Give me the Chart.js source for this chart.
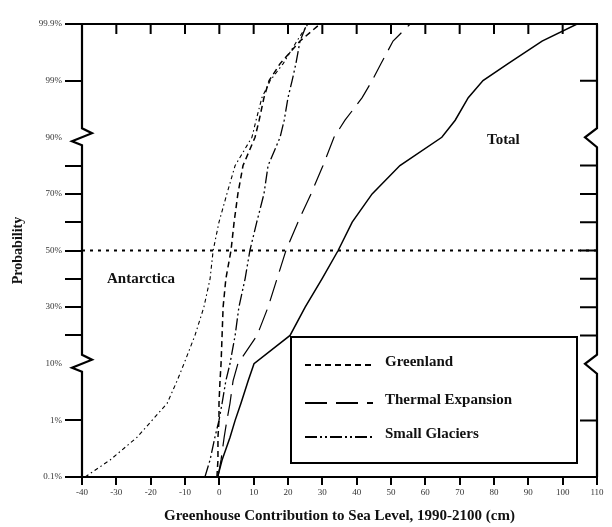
<!DOCTYPE html>
<html>
<head>
<meta charset="utf-8">
<script src="https://cdn.jsdelivr.net/npm/chart.js@4/dist/chart.umd.min.js"></script>
<style>
  body { margin: 0; background: #fff; }
  canvas { display: block; }
</style>
</head>
<body>
<canvas id="chart" width="612" height="527"></canvas>
<script>
// cumulative probability (%) at which each curve was read
const probLevels = [0.1, 0.2, 0.5, 1, 2, 5, 10, 20, 30, 40, 50, 60, 70, 80, 90, 95, 98, 99, 99.5, 99.8, 99.9];

// sea level contribution (cm) at each probability level
const totalCm      = [-0.5, 0.8, 3.1, 4.6, 6.3, 8.4, 10.1, 20.6, 25.0, 29.9, 34.6, 38.7, 44.5, 52.6, 64.8, 68.7, 72.5, 76.8, 84.1, 94.0, 104.2];
const thermalCm    = [-0.4, 0.5, 1.4, 2.2, 3.1, 4.0, 5.4, 11.0, 14.2, 16.8, 19.4, 22.9, 26.7, 30.2, 33.4, 36.6, 41.6, 44.5, 47.1, 50.6, 55.6];
const glaciersCm   = [-4.2, -2.7, -1.3, -0.1, 0.8, 1.9, 3.1, 4.6, 5.7, 7.5, 8.9, 10.9, 13.0, 14.2, 17.7, 18.9, 20.0, 21.2, 22.3, 23.5, 25.5];
const greenlandCm  = [-0.7, -0.4, -0.4, -0.1, -0.1, 0.2, 0.5, 0.8, 1.1, 1.9, 3.4, 4.3, 5.4, 6.9, 10.4, 11.6, 13.0, 14.5, 17.7, 23.5, 29.3];
const antarcticaCm = [-39.1, -31.8, -24.0, -19.6, -15.2, -12.3, -10.3, -7.1, -4.5, -2.7, -1.8, -0.1, 2.2, 4.6, 9.5, 10.7, 12.4, 14.8, 18.6, 22.6, 25.8];

const medianProb = 50;

// x axis ticks (cm)
const xMin = -40, xMax = 110, xStep = 10;

// probability axis: tick labels at axis units 0..16
const probTickUnits  = [0, 2, 4, 6, 8, 10, 12, 14, 16];
const probTickLabels = ['0.1%', '1%', '10%', '30%', '50%', '70%', '90%', '99%', '99.9%'];
const probMarkUnits  = [0, 2, 5, 6, 7, 8, 9, 10, 11, 14, 16];
const breakUnits     = [4, 12];

// broken probability axis: log tails below 10% and above 90%, linear in between
function toAxis(p) {
  if (p <= 10) return 4 + 2 * Math.log10(p / 10);
  if (p >= 90) return 12 - 2 * Math.log10((100 - p) / 10);
  return 4 + (p - 10) / 10;
}

function series(cm) {
  return cm.map((v, i) => ({ x: v, y: toAxis(probLevels[i]) }));
}

const FONT = '"Liberation Serif", "DejaVu Serif", serif';

const styles = {
  total:      { dash: [],                 width: 1.5 },
  thermal:    { dash: [22, 9],            width: 1.2 },
  greenland:  { dash: [6, 4],             width: 1.5 },
  glaciers:   { dash: [12, 3, 2, 3, 2, 3], width: 1.3 },
  antarctica: { dash: [4, 3, 1.5, 3],     width: 1.1 }
};

function line(label, cm, st) {
  return {
    label: label,
    data: series(cm),
    borderColor: '#000',
    borderWidth: st.width,
    borderDash: st.dash,
    pointRadius: 0,
    tension: 0,
    fill: false
  };
}

const framePlugin = {
  id: 'frame',
  afterDatasetsDraw(chart) {
    const { ctx, chartArea: a, scales } = chart;
    const x = scales.x, y = scales.y;
    ctx.save();
    ctx.strokeStyle = '#000';
    ctx.lineWidth = 2.2;
    ctx.lineCap = 'butt';

    // top and bottom
    ctx.beginPath();
    ctx.moveTo(a.left - 1, a.top); ctx.lineTo(a.right + 1, a.top);
    ctx.moveTo(a.left - 1, a.bottom); ctx.lineTo(a.right + 1, a.bottom);
    ctx.stroke();

    // left / right axis with breaks
    const sides = [{ px: a.left, dir: 1 }, { px: a.right, dir: -1 }];
    sides.forEach(s => {
      ctx.beginPath();
      ctx.moveTo(s.px, a.top);
      breakUnits.slice().reverse().forEach(u => {
        const cy = y.getPixelForValue(u);
        ctx.lineTo(s.px, cy - 9);
        if (s.dir === 1) {
          ctx.lineTo(s.px + 10, cy - 4);
          ctx.lineTo(s.px - 10, cy + 4);
          ctx.lineTo(s.px, cy + 8);
        } else {
          ctx.lineTo(s.px - 12, cy);
          ctx.lineTo(s.px, cy + 10);
        }
      });
      ctx.lineTo(s.px, a.bottom);
      ctx.stroke();
    });

    // inward ticks on top and right
    ctx.lineWidth = 2;
    ctx.beginPath();
    for (let v = xMin; v <= xMax; v += xStep) {
      const px = x.getPixelForValue(v);
      ctx.moveTo(px, a.top); ctx.lineTo(px, a.top + 10);
    }
    probMarkUnits.forEach(u => {
      const py = y.getPixelForValue(u);
      ctx.moveTo(a.right, py); ctx.lineTo(a.right - 17, py);
    });
    ctx.stroke();

    // legend box
    const bx = 291, by = 337, bw = 286, bh = 126;
    ctx.fillStyle = '#fff';
    ctx.fillRect(bx, by, bw, bh);
    ctx.lineWidth = 2;
    ctx.strokeRect(bx, by, bw, bh);

    const items = [
      { text: 'Greenland', st: styles.greenland, y: 365 },
      { text: 'Thermal Expansion', st: styles.thermal, y: 403 },
      { text: 'Small Glaciers', st: styles.glaciers, y: 437 }
    ];
    ctx.font = 'bold 15px ' + FONT;
    ctx.textBaseline = 'middle';
    ctx.fillStyle = '#111';
    items.forEach(it => {
      ctx.beginPath();
      ctx.setLineDash(it.st.dash);
      ctx.lineWidth = it.st.width + 0.6;
      ctx.moveTo(305, it.y); ctx.lineTo(373, it.y);
      ctx.stroke();
      ctx.setLineDash([]);
      ctx.fillText(it.text, 385, it.y - 3);
    });

    // direct labels
    ctx.fillText('Antarctica', 107, 279);
    ctx.fillText('Total', 487, 140);
    ctx.restore();
  }
};

new Chart(document.getElementById('chart'), {
  type: 'line',
  data: {
    datasets: [
      line('Total', totalCm, styles.total),
      line('Thermal Expansion', thermalCm, styles.thermal),
      line('Small Glaciers', glaciersCm, styles.glaciers),
      line('Greenland', greenlandCm, styles.greenland),
      line('Antarctica', antarcticaCm, styles.antarctica),
      {
        label: 'Median',
        data: [{ x: xMin, y: toAxis(medianProb) }, { x: xMax, y: toAxis(medianProb) }],
        borderColor: '#000',
        borderWidth: 2.2,
        borderDash: [3, 5],
        pointRadius: 0,
        fill: false
      }
    ]
  },
  options: {
    responsive: false,
    animation: false,
    layout: { padding: { top: 24, right: 15, left: 0, bottom: 0 } },
    plugins: {
      legend: { display: false },
      tooltip: { enabled: false }
    },
    scales: {
      x: {
        type: 'linear',
        min: xMin,
        max: xMax,
        afterFit: s => { s.height = 50; },
        border: { display: false },
        grid: {
          drawOnChartArea: false,
          drawTicks: true,
          tickLength: 8,
          color: '#000',
          lineWidth: 2
        },
        ticks: {
          stepSize: xStep,
          autoSkip: false,
          maxRotation: 0,
          padding: 2,
          color: '#333',
          font: { family: FONT, size: 9 }
        },
        title: {
          display: true,
          text: 'Greenhouse Contribution to Sea Level, 1990-2100 (cm)',
          color: '#111',
          font: { family: FONT, size: 15, weight: 'bold' },
          padding: { top: 0, bottom: 2 }
        }
      },
      y: {
        type: 'linear',
        min: 0,
        max: 16,
        afterFit: s => { s.width = 82; },
        border: { display: false },
        grid: {
          drawOnChartArea: false,
          drawTicks: true,
          tickLength: 17,
          lineWidth: 2,
          color: c => probMarkUnits.includes(c.tick && c.tick.value) ? '#000' : 'rgba(0,0,0,0)'
        },
        ticks: {
          stepSize: 1,
          autoSkip: false,
          padding: 3,
          color: '#333',
          font: { family: FONT, size: 9 },
          callback: v => {
            const i = probTickUnits.indexOf(v);
            return i >= 0 ? probTickLabels[i] : '';
          }
        },
        title: {
          display: true,
          text: 'Probability',
          color: '#111',
          font: { family: FONT, size: 14, weight: 'bold' },
          padding: { top: 10, bottom: 0 }
        }
      }
    }
  },
  plugins: [framePlugin]
});
</script>
</body>
</html>
